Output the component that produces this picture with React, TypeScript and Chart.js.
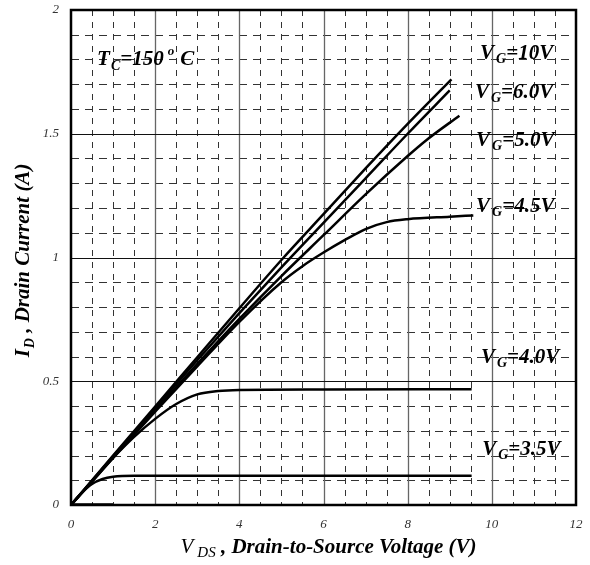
import React, { useEffect, useRef } from "react";
import { Chart, registerables } from "chart.js";

Chart.register(...registerables);

const SERIF = '"Liberation Serif", "Times New Roman", Times, serif';

// ---- axes ----
const X_MIN = 0;
const X_MAX = 12;
const X_STEP = 2;
const X_MINOR = 0.5;
const Y_MIN = 0;
const Y_MAX = 2;
const Y_STEP = 0.5;
const Y_MINOR = 0.1;

// ---- curves (V_DS in volts, I_D in amps) ----
const vds10 = [0, 1, 2, 3, 4, 5, 6, 7, 8, 9.04];
const id10 = [0, 0.2, 0.398, 0.597, 0.795, 0.99, 1.175, 1.36, 1.54, 1.72];

const vds60 = [0, 1, 2, 3, 4, 5, 6, 7, 8, 9.0];
const id60 = [0, 0.197, 0.392, 0.585, 0.775, 0.96, 1.14, 1.32, 1.5, 1.675];

const vds50 = [0, 1, 2, 3, 4, 5, 6, 7, 8, 8.45, 9.23];
const id50 = [0, 0.194, 0.383, 0.57, 0.752, 0.925, 1.09, 1.255, 1.41, 1.475, 1.573];

const vds45 = [0, 1, 2, 3, 4, 5, 5.5, 6, 6.5, 7, 7.5, 8, 9, 9.56];
const id45 = [0, 0.19, 0.377, 0.56, 0.74, 0.9, 0.965, 1.02, 1.07, 1.115, 1.143, 1.155, 1.165, 1.17];

const vds40 = [0, 0.5, 1, 1.5, 2, 2.5, 3, 3.5, 4, 6, 9.52];
const id40 = [0, 0.095, 0.19, 0.275, 0.348, 0.408, 0.447, 0.461, 0.465, 0.467, 0.468];

const vds35 = [0, 0.25, 0.5, 0.75, 1, 1.5, 9.52];
const id35 = [0, 0.048, 0.085, 0.105, 0.114, 0.118, 0.118];

const vds30 = [0, 1];
const id30 = [0, 0];

// ---- text ----
const gateValues = ["10V", "6.0V", "5.0V", "4.5V", "4.0V", "3.5V"];
const gateLabelX = [9.72, 9.6, 9.625, 9.625, 9.74, 9.77];
const gateLabelY = [1.802, 1.644, 1.4505, 1.184, 0.574, 0.202];
const tempText = "150";
const tempLabelX = 0.62;
const tempLabelY = 1.778;

const xTitleMain = " , Drain-to-Source Voltage (V)";
const yTitleMain = " , Drain Current (A)";

const pts = (xs: number[], ys: number[]) => xs.map((v, i) => ({ x: v, y: ys[i] }));

type Part = { t: string; size: number; bold?: boolean; dy?: number; gap?: number };

function fontOf(p: Part) {
  return `italic ${p.bold === false ? "normal" : "bold"} ${p.size}px ${SERIF}`;
}
function richWidth(ctx: CanvasRenderingContext2D, parts: Part[]) {
  let w = 0;
  for (const p of parts) {
    ctx.font = fontOf(p);
    w += ctx.measureText(p.t).width + (p.gap || 0);
  }
  return w;
}
function drawRich(ctx: CanvasRenderingContext2D, x: number, y: number, parts: Part[]) {
  let cx = x;
  ctx.textBaseline = "alphabetic";
  ctx.textAlign = "left";
  for (const p of parts) {
    ctx.font = fontOf(p);
    ctx.fillText(p.t, cx, y + (p.dy || 0));
    cx += ctx.measureText(p.t).width + (p.gap || 0);
  }
}

const isMultiple = (v: number, step: number) => Math.abs(v / step - Math.round(v / step)) < 1e-6;

const gridPlugin = {
  id: "customGrid",
  beforeDatasetsDraw(chart: any) {
    const { ctx, chartArea: a, scales } = chart;
    const x = scales.x;
    const y = scales.y;
    ctx.save();
    ctx.lineWidth = 1;
    ctx.strokeStyle = "#333";
    ctx.setLineDash([6, 6]);
    const nx = Math.round((X_MAX - X_MIN) / X_MINOR);
    for (let i = 1; i < nx; i++) {
      const v = X_MIN + i * X_MINOR;
      if (isMultiple(v, X_STEP)) continue;
      const px = Math.round(x.getPixelForValue(v)) + 0.5;
      ctx.beginPath();
      ctx.moveTo(px, a.top);
      ctx.lineTo(px, a.bottom);
      ctx.stroke();
    }
    ctx.setLineDash([8, 6]);
    const ny = Math.round((Y_MAX - Y_MIN) / Y_MINOR);
    for (let i = 1; i < ny; i++) {
      const v = Y_MIN + i * Y_MINOR;
      if (isMultiple(v, Y_STEP)) continue;
      const py = Math.round(y.getPixelForValue(v)) + 0.5;
      ctx.beginPath();
      ctx.moveTo(a.left, py);
      ctx.lineTo(a.right, py);
      ctx.stroke();
    }
    ctx.setLineDash([]);
    ctx.strokeStyle = "#666";
    ctx.lineWidth = 1.3;
    for (let v = X_MIN + X_STEP; v < X_MAX - 1e-9; v += X_STEP) {
      const px = Math.round(x.getPixelForValue(v)) + 0.5;
      ctx.beginPath();
      ctx.moveTo(px, a.top);
      ctx.lineTo(px, a.bottom);
      ctx.stroke();
    }
    ctx.strokeStyle = "#111";
    ctx.lineWidth = 1;
    for (let v = Y_MIN + Y_STEP; v < Y_MAX - 1e-9; v += Y_STEP) {
      const py = Math.round(y.getPixelForValue(v)) + 0.5;
      ctx.beginPath();
      ctx.moveTo(a.left, py);
      ctx.lineTo(a.right, py);
      ctx.stroke();
    }
    ctx.restore();
  },
  afterDatasetsDraw(chart: any) {
    const { ctx, chartArea: a } = chart;
    ctx.save();
    ctx.strokeStyle = "#000";
    ctx.lineWidth = 2.5;
    ctx.strokeRect(a.left, a.top, a.right - a.left, a.bottom - a.top);
    ctx.restore();
  },
  afterDraw(chart: any) {
    const { ctx, chartArea: a, scales } = chart;
    const x = scales.x;
    const y = scales.y;
    ctx.save();
    ctx.fillStyle = "#000";
    const big = 21;
    const sub = 14;
    gateValues.forEach((g, i) => {
      drawRich(ctx, x.getPixelForValue(gateLabelX[i]), y.getPixelForValue(gateLabelY[i]), [
        { t: "V", size: big, gap: 2 },
        { t: "G", size: sub, dy: 4 },
        { t: "=" + g, size: big },
      ]);
    });
    drawRich(ctx, x.getPixelForValue(tempLabelX), y.getPixelForValue(tempLabelY), [
      { t: "T", size: big, gap: 1 },
      { t: "C", size: sub, dy: 5 },
      { t: "=" + tempText, size: big, gap: 4 },
      { t: "o", size: 13, dy: -10, gap: 6 },
      { t: "C", size: big },
    ]);
    const xParts: Part[] = [
      { t: "V", size: big, bold: false, gap: 4 },
      { t: "DS", size: 15, bold: false, dy: 4 },
      { t: xTitleMain, size: big },
    ];
    const xw = richWidth(ctx, xParts);
    drawRich(ctx, (a.left + a.right) / 2 + 5 - xw / 2, 553, xParts);
    const yParts: Part[] = [
      { t: "I", size: big, gap: 1 },
      { t: "D", size: sub, dy: 5 },
      { t: yTitleMain, size: big },
    ];
    const yw = richWidth(ctx, yParts);
    ctx.translate(29, (a.top + a.bottom) / 2 + 3);
    ctx.rotate(-Math.PI / 2);
    drawRich(ctx, -yw / 2, 0, yParts);
    ctx.restore();
  },
};

export default function App() {
  const ref = useRef<HTMLCanvasElement | null>(null);
  useEffect(() => {
    if (!ref.current) return;
    const line = (xs: number[], ys: number[], w = 2.5) => ({
      data: pts(xs, ys),
      borderColor: "#000",
      backgroundColor: "#000",
      borderWidth: w,
      pointRadius: 0,
      fill: false,
      cubicInterpolationMode: "monotone" as const,
    });
    const chart = new Chart(ref.current, {
      type: "line",
      data: {
        datasets: [
          line(vds10, id10),
          line(vds60, id60),
          line(vds50, id50),
          line(vds45, id45),
          line(vds40, id40),
          line(vds35, id35),
          line(vds30, id30, 3.5),
        ],
      },
      options: {
        animation: false,
        responsive: false,
        devicePixelRatio: 1,
        layout: { padding: { left: 0, top: 10, right: 14, bottom: 0 } },
        plugins: { legend: { display: false }, tooltip: { enabled: false } },
        scales: {
          x: {
            type: "linear",
            min: X_MIN,
            max: X_MAX,
            grid: { display: false, drawTicks: false },
            border: { display: false },
            ticks: {
              stepSize: X_STEP,
              padding: 12,
              color: "#333",
              maxRotation: 0,
              font: { family: SERIF, size: 13, style: "italic" },
              callback: (v: any) => String(v),
            },
            afterFit: (s: any) => {
              s.height = 60;
              s.paddingLeft = 0;
              s.paddingRight = 0;
            },
          },
          y: {
            type: "linear",
            min: Y_MIN,
            max: Y_MAX,
            grid: { display: false, drawTicks: false },
            border: { display: false },
            ticks: {
              stepSize: Y_STEP,
              padding: 12,
              color: "#333",
              font: { family: SERIF, size: 13, style: "italic" },
              callback: (v: any) => String(v),
            },
            afterFit: (s: any) => {
              s.width = 71;
              s.paddingTop = 0;
              s.paddingBottom = 0;
            },
          },
        },
      },
      plugins: [gridPlugin],
    });
    return () => chart.destroy();
  }, []);
  return (
    <div style={{ position: "absolute", left: 0, top: 0, width: 590, height: 565, background: "#fff" }}>
      <canvas ref={ref} width={590} height={565} />
    </div>
  );
}
